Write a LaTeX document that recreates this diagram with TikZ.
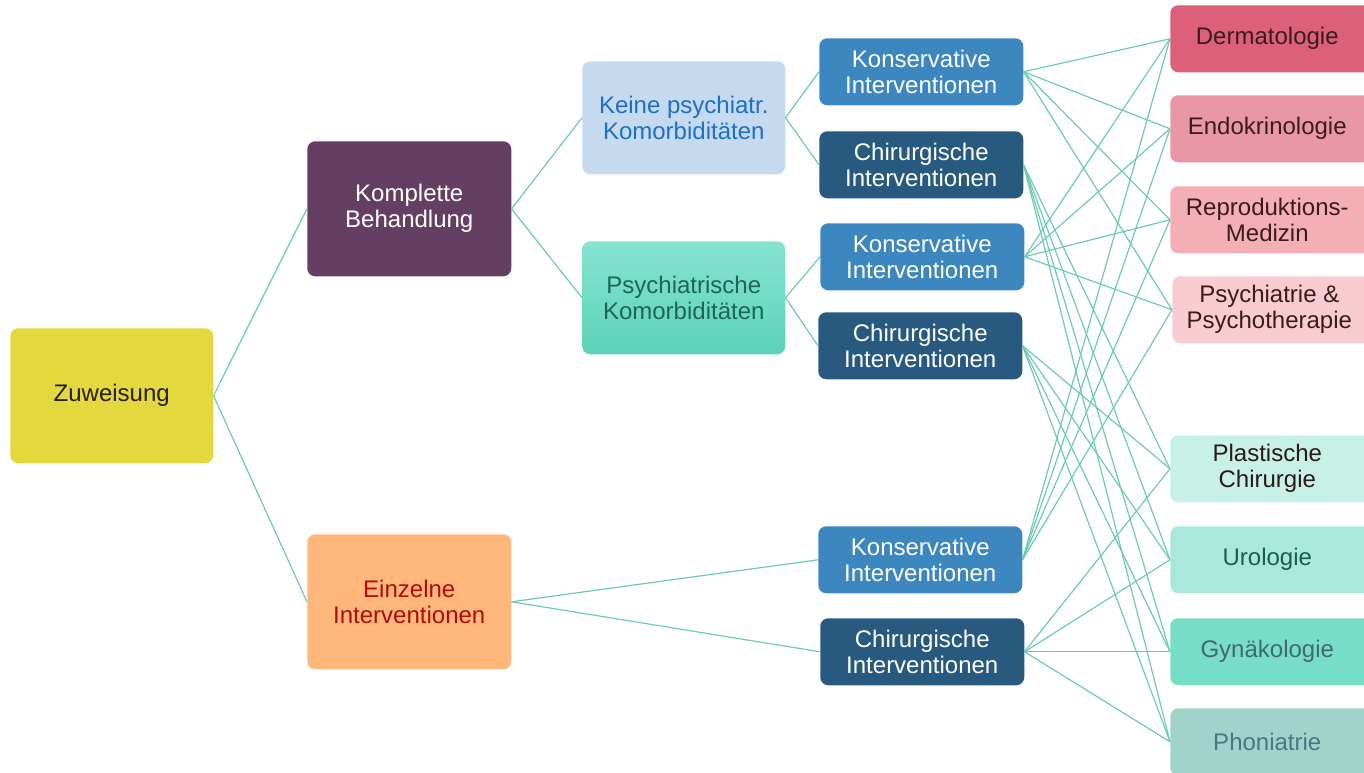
\documentclass[tikz,border=0pt]{standalone}
\usepackage{fontspec}
\setmainfont{Liberation Sans}
\definecolor{linec}{HTML}{6DCBB4}
\definecolor{zuwc}{HTML}{E3D93F}
\definecolor{zuwt}{HTML}{2A1C10}
\definecolor{komc}{HTML}{643F62}
\definecolor{einc}{HTML}{FFB77C}
\definecolor{eint}{HTML}{B00C0C}
\definecolor{keic}{HTML}{C6DAEF}
\definecolor{keit}{HTML}{1E70C0}
\definecolor{psytop}{HTML}{86E4D1}
\definecolor{psybot}{HTML}{5CD2B7}
\definecolor{psyt}{HTML}{1D6656}
\definecolor{konc}{HTML}{3D87C0}
\definecolor{chic}{HTML}{285A80}
\definecolor{dermc}{HTML}{DC6079}
\definecolor{endoc}{HTML}{E996A7}
\definecolor{reproc}{HTML}{F4AEB6}
\definecolor{psychc}{HTML}{F9CCD1}
\definecolor{pinkt}{HTML}{3A1C1E}
\definecolor{plastc}{HTML}{C7F1E6}
\definecolor{plastt}{HTML}{2C1A1A}
\definecolor{uroc}{HTML}{ABE8DC}
\definecolor{urot}{HTML}{1A5E50}
\definecolor{gync}{HTML}{78DDC6}
\definecolor{gynt}{HTML}{3E6B6F}
\definecolor{phonc}{HTML}{A0D4CB}
\definecolor{phont}{HTML}{4D7582}
\newcommand{\cutbox}[1]{\parbox[c]{145.5pt}{\centering #1}\hspace*{15pt}}
\begin{document}
\begin{tikzpicture}[x=0.75pt,y=-0.75pt,
  box/.style={anchor=north west, rounded corners=6pt, inner sep=0pt, align=center,
    font=\fontsize{18}{19.5}\selectfont, minimum height=67*0.75pt, minimum width=204*0.75pt},
  bigbox/.style={box, minimum height=135*0.75pt},
  midbox/.style={box, minimum height=113*0.75pt, minimum width=203*0.75pt},
  konbox/.style={box, fill=konc, text=white},
  chibox/.style={box, fill=chic, text=white},
  link/.style={draw=linec, line width=0.9pt}]
\useasboundingbox (0,0) rectangle (1364,772);
\clip (0,0) rectangle (1364,772);
% left part
\node[bigbox, fill=zuwc, text=zuwt, minimum width=203*0.75pt] (zuw) at (10,328) {Zuweisung};
\node[bigbox, fill=komc, text=white] (kom) at (307,141) {Komplette\\Behandlung};
\node[bigbox, fill=einc, text=eint] (ein) at (307,534) {Einzelne\\Interventionen};
\node[midbox, fill=keic, text=keit] (kei) at (582,61) {Keine psychiatr.\\Komorbiditäten};
\node[midbox, top color=psytop, bottom color=psybot, text=psyt] (psy) at (582,241) {Psychiatrische\\Komorbiditäten};
% interventions
\node[konbox] (k1) at (819,38) {Konservative\\Interventionen};
\node[chibox] (c1) at (819,131) {Chirurgische\\Interventionen};
\node[konbox] (k2) at (820,223) {Konservative\\Interventionen};
\node[chibox] (c2) at (818,312) {Chirurgische\\Interventionen};
\node[konbox] (k3) at (818,526) {Konservative\\Interventionen};
\node[chibox] (c3) at (820,618) {Chirurgische\\Interventionen};
% specialties
\node[box, fill=dermc, text=pinkt] (derm) at (1170,5) {\cutbox{Dermatologie}};
\node[box, fill=endoc, text=pinkt] (endo) at (1170,95) {\cutbox{Endokrinologie}};
\node[box, fill=reproc, text=pinkt] (repro) at (1170,186) {\cutbox{Reproduktions-\\Medizin}};
\node[box, fill=psychc, text=pinkt] (psych) at (1172,276) {\cutbox{Psychiatrie \&\\Psychotherapie}};
\node[box, fill=plastc, text=plastt] (plast) at (1170,435) {\cutbox{Plastische\\Chirurgie}};
\node[box, fill=uroc, text=urot] (uro) at (1170,526) {\cutbox{Urologie}};
\node[box, fill=gync, text=gynt] (gyn) at (1170,618) {\cutbox{Gynäkologie}};
\node[box, fill=phonc, text=phont] (phon) at (1170,708) {\cutbox{Phoniatrie}};
% connectors
\draw[link] (zuw.east) -- (kom.west);
\draw[link] (zuw.east) -- (ein.west);
\draw[link] (kom.east) -- (kei.west);
\draw[link] (kom.east) -- (psy.west);
\draw[link] (kei.east) -- (k1.west);
\draw[link] (kei.east) -- (c1.west);
\draw[link] (psy.east) -- (k2.west);
\draw[link] (psy.east) -- (c2.west);
\draw[link] (ein.east) -- (k3.west);
\draw[link] (ein.east) -- (c3.west);
\foreach \k in {k1,k2,k3}{
  \foreach \t in {derm,endo,repro,psych}{
    \draw[link] (\k.east) -- (\t.west);
  }
}
\foreach \c in {c1,c2,c3}{
  \foreach \t in {plast,uro,gyn,phon}{
    \draw[link] (\c.east) -- (\t.west);
  }
}
\end{tikzpicture}
\end{document}
